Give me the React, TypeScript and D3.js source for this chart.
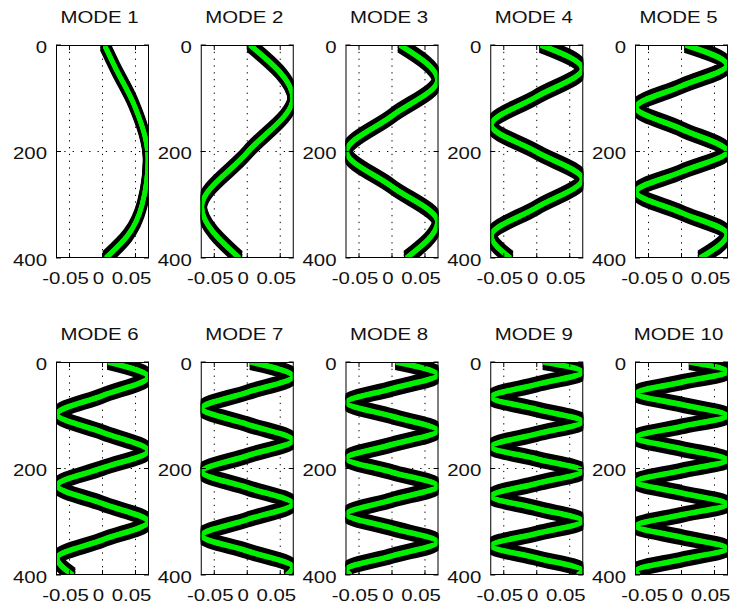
import React from "react";
import * as d3 from "d3";

// Mode numbers shown in the 2 x 5 grid of panels
const modeNumbers = [1, 2, 3, 4, 5, 6, 7, 8, 9, 10];

// Axis ticks
const depthTicks = [0, 200, 400];
const amplitudeTicks = [-0.05, 0, 0.05];
const depthDomain: [number, number] = [0, 400];
const amplitudeDomain: [number, number] = [-0.0705, 0.0705];

// Mode shapes as [depth, amplitude] knots: surface value, extrema, zero crossings, bottom value
type Knot = [number, number];
const mode1: Knot[] = [[0, 0.003], [44, 0.02], [107, 0.046], [215, 0.069], [300, 0.06], [358, 0.038], [400, 0.005]];
const mode2: Knot[] = [[0, 0.004], [100, 0.069], [202, 0], [304, -0.069], [400, -0.012]];
const mode3: Knot[] = [[0, 0.012], [66, 0.069], [133, 0], [200, -0.069], [266, 0], [332, 0.069], [400, 0.022]];
const mode4: Knot[] = [[0, 0.006], [45, 0.069], [97, 0], [150, -0.069], [201, 0], [252, 0.069], [305, 0], [358, -0.069], [400, -0.04]];
const mode5: Knot[] = [[0, 0.006], [38, 0.069], [77, 0], [117, -0.069], [158, 0], [200, 0.069], [238, 0], [276, -0.069], [315, 0], [355, 0.069], [400, 0.028]];
const mode6: Knot[] = [[0, 0.0085], [28, 0.069], [63, 0], [98, -0.069], [132, 0], [167, 0.069], [199, 0], [232, -0.069], [266, 0], [300, 0.069], [334, 0], [368, -0.069], [400, -0.045]];
const mode7: Knot[] = [[0, 0.005], [27, 0.069], [57, 0], [87, -0.069], [117, 0], [147, 0.069], [176, 0], [206, -0.069], [236, 0], [266, 0.069], [296, 0], [326, -0.069], [355, 0], [385, 0.069], [400, 0.06]];
const mode8: Knot[] = [[0, 0.006], [24, 0.069], [50, 0], [76, -0.069], [102, 0], [129, 0.069], [155, 0], [181, -0.069], [207, 0], [233, 0.069], [259, 0], [286, -0.069], [312, 0], [338, 0.069], [364, 0], [390, -0.069], [400, -0.063]];
const mode9: Knot[] = [[0, 0.01], [19, 0.069], [42, 0], [66, -0.069], [89, 0], [112, 0.069], [135, 0], [159, -0.069], [182, 0], [205, 0.069], [228, 0], [252, -0.069], [275, 0], [299, 0.069], [322, 0], [345, -0.069], [368, 0], [392, 0.069], [400, 0.062]];
const mode10: Knot[] = [[0, 0.012], [18, 0.069], [38, 0], [59, -0.069], [80, 0], [101, 0.069], [121, 0], [142, -0.069], [163, 0], [184, 0.069], [204, 0], [225, -0.069], [246, 0], [267, 0.069], [287, 0], [308, -0.069], [329, 0], [350, 0.069], [371, 0], [392, -0.069], [400, -0.065]];

const modeShapes = [mode1, mode2, mode3, mode4, mode5, mode6, mode7, mode8, mode9, mode10];

const WIDTH = 737;
const HEIGHT = 615;
const PANEL_W = 93;
const PANEL_H = 213;
const COL_STEP = 144.75;
const FIRST_LEFT = 56;
const ROW_TOPS = [45, 362];

const FONT = "'Liberation Sans', Arial, Helvetica, sans-serif";
const FONT_SIZE = 17;
const STRETCH = 1.2;

// thick pen: stacked copies shifted vertically, like a raster pen
const BLACK_OFFSETS = [-3, -1.5, 0, 1.5, 3];
const GREEN_OFFSETS = [-0.5, 0, 0.5];

function Label({ x, y, text, anchor }: { x: number; y: number; text: string; anchor: "start" | "middle" | "end" }) {
  return (
    <text
      transform={`translate(${x},${y}) scale(${STRETCH},1)`}
      textAnchor={anchor}
      dominantBaseline="central"
      fontFamily={FONT}
      fontSize={FONT_SIZE}
      fill="#111"
    >
      {text}
    </text>
  );
}

function formatAmp(v: number) {
  if (v === 0) return "0";
  return v < 0 ? "-" + String(Math.abs(v)) : String(v);
}

function Panel({ index }: { index: number }) {
  const col = index % 5;
  const row = Math.floor(index / 5);
  const left = FIRST_LEFT + col * COL_STEP;
  const top = ROW_TOPS[row];
  const right = left + PANEL_W;
  const bottom = top + PANEL_H;

  const x = d3.scaleLinear().domain(amplitudeDomain).range([left, right]);
  const y = d3.scaleLinear().domain(depthDomain).range([top, bottom]);

  const line = d3
    .line<Knot>()
    .x((d) => x(d[1]))
    .y((d) => y(d[0]))
    .curve(d3.curveMonotoneY);

  const path = line(modeShapes[index]) || "";
  const clipId = `panel-clip-${index}`;
  const tickLen = 5;

  return (
    <g>
      <defs>
        <clipPath id={clipId}>
          <rect x={left} y={top} width={PANEL_W} height={PANEL_H} />
        </clipPath>
      </defs>
      <rect x={left} y={top} width={PANEL_W} height={PANEL_H} fill="#fff" />

      {/* dotted grid */}
      {amplitudeTicks.map((t) => (
        <line key={`gx${t}`} x1={x(t)} x2={x(t)} y1={top} y2={bottom} stroke="#000" strokeWidth={1} strokeDasharray="1.3 5.5" />
      ))}
      {depthTicks
        .filter((t) => t !== depthDomain[0] && t !== depthDomain[1])
        .map((t) => (
          <line key={`gy${t}`} x1={left} x2={right} y1={y(t)} y2={y(t)} stroke="#000" strokeWidth={1} strokeDasharray="1.3 7" />
        ))}

      {/* mode shape */}
      <g clipPath={`url(#${clipId})`}>
        {BLACK_OFFSETS.map((dy) => (
          <path key={`k${dy}`} d={path} transform={`translate(0,${dy})`} fill="none" stroke="#000" strokeWidth={10} strokeLinejoin="round" />
        ))}
        {GREEN_OFFSETS.map((dy) => (
          <path key={`g${dy}`} d={path} transform={`translate(0,${dy})`} fill="none" stroke="#00f000" strokeWidth={4.6} strokeLinejoin="round" />
        ))}
      </g>

      {/* inward ticks */}
      {amplitudeTicks.map((t) => (
        <g key={`tx${t}`}>
          <line x1={x(t)} x2={x(t)} y1={bottom} y2={bottom - tickLen} stroke="#000" />
          <line x1={x(t)} x2={x(t)} y1={top} y2={top + tickLen} stroke="#000" />
        </g>
      ))}
      {depthTicks.map((t) => (
        <g key={`ty${t}`}>
          <line x1={left} x2={left + tickLen} y1={y(t)} y2={y(t)} stroke="#000" />
          <line x1={right} x2={right - tickLen} y1={y(t)} y2={y(t)} stroke="#000" />
        </g>
      ))}

      <rect x={left + 0.5} y={top + 0.5} width={PANEL_W - 1} height={PANEL_H - 1} fill="none" stroke="#000" strokeWidth={1} />

      {/* labels */}
      <Label x={left + PANEL_W / 2 - 3} y={top - 28} text={`MODE ${modeNumbers[index]}`} anchor="middle" />
      {depthTicks.map((t) => (
        <Label key={`ly${t}`} x={left - 9} y={y(t) + 2} text={String(t)} anchor="end" />
      ))}
      {amplitudeTicks.map((t) => (
        <Label key={`lx${t}`} x={x(t) - 4} y={bottom + 20} text={formatAmp(t)} anchor="middle" />
      ))}
    </g>
  );
}

export default function App() {
  return (
    <svg
      width={WIDTH}
      height={HEIGHT}
      viewBox={`0 0 ${WIDTH} ${HEIGHT}`}
      style={{ position: "absolute", left: 0, top: 0, background: "#fff" }}
    >
      <rect x={0} y={0} width={WIDTH} height={HEIGHT} fill="#fff" />
      {modeNumbers.map((_, i) => (
        <Panel key={i} index={i} />
      ))}
    </svg>
  );
}
